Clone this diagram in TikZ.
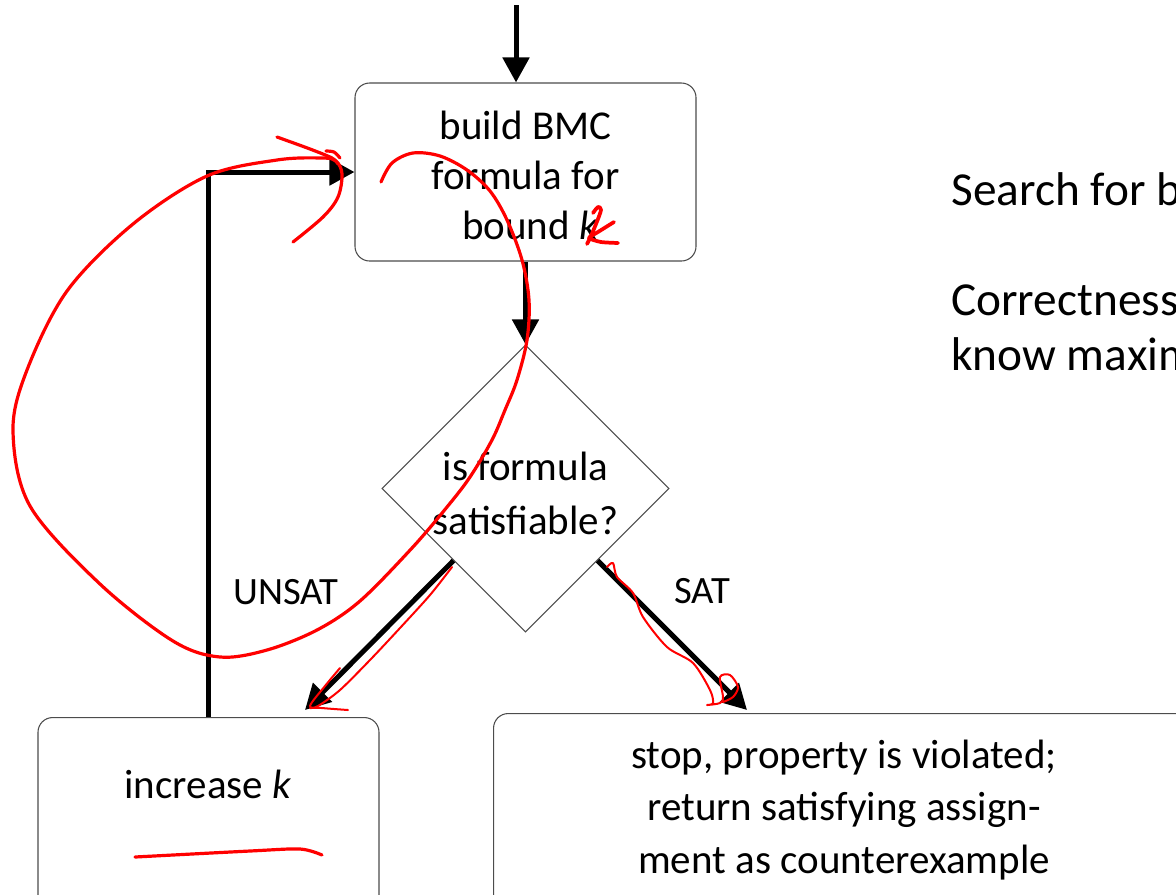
\documentclass[tikz,border=0pt]{standalone}
\usepackage{fontspec}
\setmainfont{Carlito}
\usetikzlibrary{arrows.meta,shapes.geometric}
\begin{document}
\begin{tikzpicture}[x=0.75pt,y=-0.75pt,
  box/.style={draw=black!70, line width=0.8pt, rounded corners=11pt, inner sep=0pt},
  flow/.style={line width=3.75pt, -{Triangle[length=18.75pt,width=19.5pt]}},
  boxtext/.style={align=center, font=\fontsize{30.75}{37.5}\selectfont, inner sep=0pt},
  lbl/.style={font=\fontsize{29}{35}\selectfont, inner sep=0pt},
  side/.style={font=\fontsize{35.5}{42}\selectfont, inner sep=0pt, anchor=base west},
  ink/.style={draw=red, line width=2.4pt, line cap=round, line join=round},
  thinink/.style={ink, line width=1.5pt}]
\useasboundingbox (0,0) rectangle (1176,894);
\clip (0,0) rectangle (1176,894);

% flowchart boxes
\node[box, boxtext, minimum width=255.75pt, minimum height=133.5pt] (build) at (525.5,172)
  {\strut build BMC\\formula for\\\hspace*{7pt}bound \textit{k}};
\node[draw=black!70, line width=0.8pt, shape=diamond, aspect=1,
  minimum width=215.25pt, minimum height=215.25pt, inner sep=0pt,
  align=center, font=\fontsize{30.75}{41}\selectfont] (sat) at (525.5,488.5)
  {\strut is formula\\satisfiable?};
\node[box, minimum width=255.75pt, minimum height=180pt, anchor=north] (inc) at (208.5,717) {};
\node[boxtext] (inctext) at (208,784) {increase \textit{k}};
\node[box, minimum width=526.5pt, minimum height=180pt, anchor=north west] (stop) at (493,713) {};
\node[boxtext, font=\fontsize{30.75}{39.4}\selectfont] (stoptext) at (844,810)
  {stop, property is violated;\\return satisfying assign-\\ment as counterexample};

% connectors
\coordinate (entry) at (516,5);
\coordinate (uend) at (305,710);
\coordinate (send) at (747,710);
\draw[flow] (entry) -- (entry |- build.north);
\draw[flow] (build.south) -- (sat.north);
\draw[flow] (sat.south west) -- (uend);
\draw[flow] (sat.south east) -- (send);
\draw[flow] (inc.north) |- (build.west);

% branch labels
\node[lbl] (unsat) at (286,592) {UNSAT};
\node[lbl] (satl) at (702,591) {SAT};

% side notes
\node[side] (t1) at (951,205) {Search for b};
\node[side] (t2) at (951,315) {Correctness};
\node[side] (t3) at (951,370) {know maxim};

% handwritten ink: loop back to the build step
\draw[ink] plot[smooth, tension=0.55] coordinates {
  (381,182) (392,163) (413,153) (440,156) (467,170) (490,191) (507,220)
  (522,260) (529,300) (527,340) (517,380) (505,410) (492,440) (470,477)
  (447,507) (412,548) (360,601) (317,630) (267,650) (220,657) (173,641)
  (100,584) (30,506) (13,431) (27,370) (67,291) (133,224) (207,176)
  (277,160) (322,158) (336,161) (342,174) (338,197) (323,217) (293,242)};
\draw[ink] plot[smooth, tension=0.5] coordinates {(277,137) (310,149) (332,158) (338,164)};
\draw[ink] plot[smooth, tension=0.5] coordinates {(326,151) (334,152) (340,158)};
% ink k
\draw[ink, line width=2.8pt] plot[smooth, tension=0.5] coordinates {(593,213) (598,207) (601,210) (596,224) (590,238) (587,244)};
\draw[ink, line width=2.8pt] plot[smooth, tension=0.4] coordinates {(614,222) (598,232) (589,238) (601,242) (618,243)};
% ink underline
\draw[ink] plot[smooth, tension=0.5] coordinates {(135,857) (250,851) (300,849) (322,855)};
% ink traces on the branch arrows
\draw[thinink] plot[smooth, tension=0.5] coordinates {
  (452,567) (430,595) (400,628) (370,660) (340,690) (318,706) (310,708)};
\draw[thinink] plot[smooth, tension=0.5] coordinates {
  (340,668) (325,686) (310,706) (322,708) (348,710)};
\draw[thinink] plot[smooth, tension=0.5] coordinates {
  (607,567) (613,563) (617,577) (633,593) (643,617) (667,647) (693,663)
  (710,690) (713,703) (707,705) (720,703) (723,697) (720,677) (730,675)
  (738,687) (733,697) (723,702)};
\end{tikzpicture}
\end{document}
